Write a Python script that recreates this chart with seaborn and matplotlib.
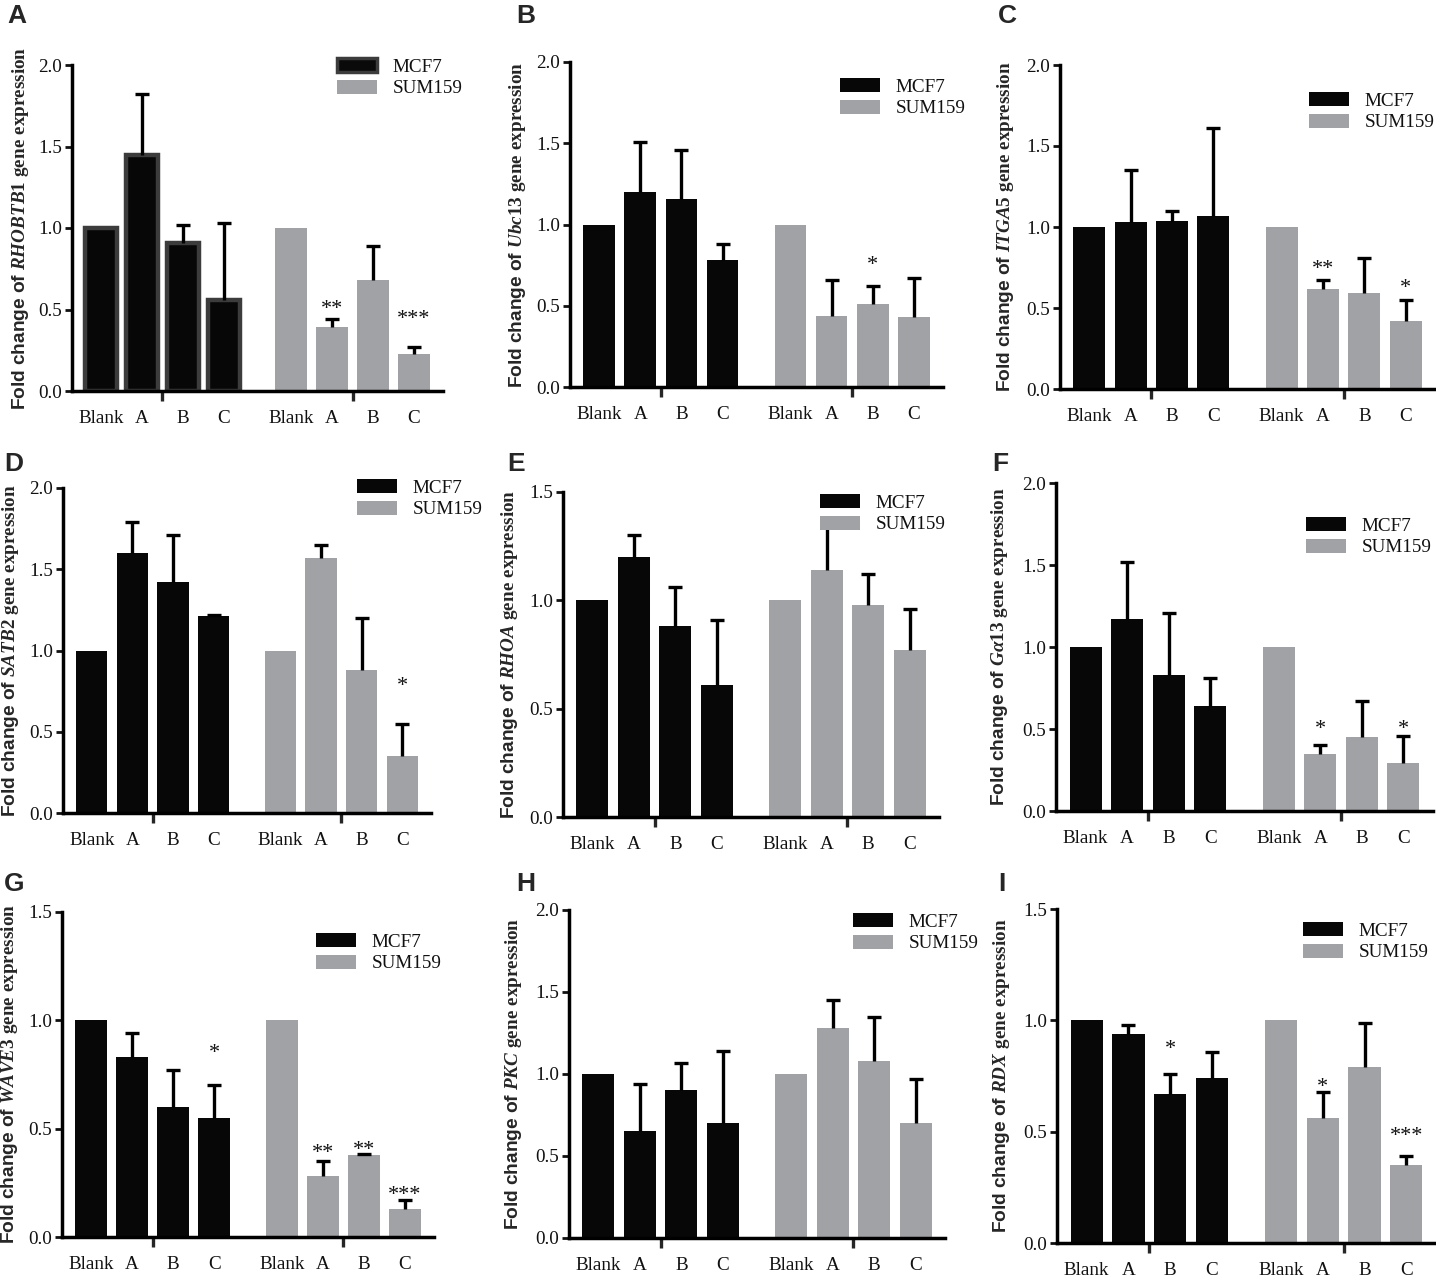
import numpy as np
import pandas as pd
import matplotlib
matplotlib.use("Agg")
import matplotlib.pyplot as plt
import seaborn as sns
from matplotlib.patches import Patch

# ---------------- data ----------------
treatments = ["Blank", "A", "B", "C"]
cell_lines = ["MCF7", "SUM159"]
panel_letters = ["A", "B", "C", "D", "E", "F", "G", "H", "I"]
genes = ["RHOBTB1", "Ubc13", "ITGA5", "SATB2", "RHOA", "Gα13", "WAVE3", "PKC", "RDX"]
y_max = [2.0, 2.0, 2.0, 2.0, 1.5, 2.0, 1.5, 2.0, 1.5]
y_ticks_2 = [0.0, 0.5, 1.0, 1.5, 2.0]
y_ticks_15 = [0.0, 0.5, 1.0, 1.5]

rhobtb1_mcf7 = [1.00, 1.45, 0.91, 0.56]
rhobtb1_mcf7_err = [0.00, 0.37, 0.11, 0.47]
rhobtb1_sum = [1.00, 0.39, 0.68, 0.23]
rhobtb1_sum_err = [0.00, 0.05, 0.21, 0.04]

ubc13_mcf7 = [1.00, 1.20, 1.16, 0.78]
ubc13_mcf7_err = [0.00, 0.31, 0.30, 0.10]
ubc13_sum = [1.00, 0.44, 0.51, 0.43]
ubc13_sum_err = [0.00, 0.22, 0.11, 0.24]

itga5_mcf7 = [1.00, 1.03, 1.04, 1.07]
itga5_mcf7_err = [0.00, 0.32, 0.06, 0.54]
itga5_sum = [1.00, 0.62, 0.59, 0.42]
itga5_sum_err = [0.00, 0.05, 0.22, 0.13]

satb2_mcf7 = [1.00, 1.60, 1.42, 1.21]
satb2_mcf7_err = [0.00, 0.19, 0.29, 0.01]
satb2_sum = [1.00, 1.57, 0.88, 0.35]
satb2_sum_err = [0.00, 0.08, 0.32, 0.20]

rhoa_mcf7 = [1.00, 1.20, 0.88, 0.61]
rhoa_mcf7_err = [0.00, 0.10, 0.18, 0.30]
rhoa_sum = [1.00, 1.14, 0.98, 0.77]
rhoa_sum_err = [0.00, 0.22, 0.14, 0.19]

ga13_mcf7 = [1.00, 1.17, 0.83, 0.64]
ga13_mcf7_err = [0.00, 0.35, 0.38, 0.17]
ga13_sum = [1.00, 0.35, 0.45, 0.29]
ga13_sum_err = [0.00, 0.05, 0.22, 0.17]

wave3_mcf7 = [1.00, 0.83, 0.60, 0.55]
wave3_mcf7_err = [0.00, 0.11, 0.17, 0.15]
wave3_sum = [1.00, 0.28, 0.38, 0.13]
wave3_sum_err = [0.00, 0.07, 0.005, 0.04]

pkc_mcf7 = [1.00, 0.65, 0.90, 0.70]
pkc_mcf7_err = [0.00, 0.29, 0.17, 0.44]
pkc_sum = [1.00, 1.28, 1.08, 0.70]
pkc_sum_err = [0.00, 0.17, 0.27, 0.27]

rdx_mcf7 = [1.00, 0.94, 0.67, 0.74]
rdx_mcf7_err = [0.00, 0.04, 0.09, 0.12]
rdx_sum = [1.00, 0.56, 0.79, 0.35]
rdx_sum_err = [0.00, 0.12, 0.20, 0.04]

# significance marks: (bar index 0-7, label, height in data units)
sig_rhobtb1 = [(5, "**", 0.54), (7, "***", 0.48)]
sig_ubc13 = [(6, "*", 0.79)]
sig_itga5 = [(5, "**", 0.78), (7, "*", 0.66)]
sig_satb2 = [(7, "*", 0.82)]
sig_rhoa = []
sig_ga13 = [(5, "*", 0.54), (7, "*", 0.54)]
sig_wave3 = [(3, "*", 0.877), (5, "**", 0.415), (6, "**", 0.43), (7, "***", 0.223)]
sig_pkc = []
sig_rdx = [(2, "*", 0.90), (5, "*", 0.73), (7, "***", 0.51)]

means_mcf7 = [rhobtb1_mcf7, ubc13_mcf7, itga5_mcf7, satb2_mcf7, rhoa_mcf7, ga13_mcf7, wave3_mcf7, pkc_mcf7, rdx_mcf7]
errs_mcf7 = [rhobtb1_mcf7_err, ubc13_mcf7_err, itga5_mcf7_err, satb2_mcf7_err, rhoa_mcf7_err, ga13_mcf7_err, wave3_mcf7_err, pkc_mcf7_err, rdx_mcf7_err]
means_sum = [rhobtb1_sum, ubc13_sum, itga5_sum, satb2_sum, rhoa_sum, ga13_sum, wave3_sum, pkc_sum, rdx_sum]
errs_sum = [rhobtb1_sum_err, ubc13_sum_err, itga5_sum_err, satb2_sum_err, rhoa_sum_err, ga13_sum_err, wave3_sum_err, pkc_sum_err, rdx_sum_err]
sigs = [sig_rhobtb1, sig_ubc13, sig_itga5, sig_satb2, sig_rhoa, sig_ga13, sig_wave3, sig_pkc, sig_rdx]

# ---------------- layout / style ----------------
W, H = 1436, 1278
BLACK = "#070707"
GRAY = "#a1a2a6"
group_offset = 4.65
positions = [0, 1, 2, 3] + [group_offset + i for i in range(4)]
group_centers = [1.5, group_offset + 1.5]

# axes boxes in pixels: left, top, right, bottom
boxes = [
    (72, 65, 443, 391), (570, 62, 943, 387), (1060, 65, 1435, 389),
    (63, 488, 431, 813), (563, 492, 939, 817), (1056, 483, 1433, 811),
    (62, 912, 434, 1237), (569, 910, 945, 1238), (1057, 909, 1436, 1243),
]
ylabel_x = [21, 517, 1005, 11, 509, 999, 10, 513, 1001]
letter_pos = [(7, 4), (516, 4), (998, 4), (4, 452), (507, 452), (992, 452),
              (4, 872), (516, 872), (998, 872)]
legend_pos = [(337, 68), (840, 88), (1309, 102), (357, 489), (820, 504),
              (1306, 527), (316, 943), (853, 923), (1303, 932)]

sns.set_style("ticks")
plt.rcParams["font.family"] = ["Liberation Serif", "DejaVu Sans"]
plt.rcParams["mathtext.fontset"] = "custom"
plt.rcParams["mathtext.bf"] = "Liberation Sans:bold"
plt.rcParams["mathtext.it"] = "Liberation Serif:italic:bold"
plt.rcParams["mathtext.rm"] = "Liberation Serif:bold"

fig = plt.figure(figsize=(W / 100, H / 100), dpi=100)

for k in range(9):
    l, t, r, b = boxes[k]
    ax = fig.add_axes([l / W, 1 - b / H, (r - l) / W, (b - t) / H])

    df = pd.DataFrame({
        "pos": positions,
        "value": list(means_mcf7[k]) + list(means_sum[k]),
        "line": [cell_lines[0]] * 4 + [cell_lines[1]] * 4,
    })
    sns.barplot(data=df, x="pos", y="value", hue="line", hue_order=cell_lines,
                palette={cell_lines[0]: BLACK, cell_lines[1]: GRAY},
                native_scale=True, width=0.77, dodge=False, errorbar=None,
                saturation=1, legend=False, linewidth=0, ax=ax)

    if k == 0:
        for p in ax.patches:
            if p.get_x() + p.get_width() / 2 < group_offset - 0.5:
                p.set_edgecolor("#3c3c3c")
                p.set_linewidth(3.2)

    err = np.array(list(errs_mcf7[k]) + list(errs_sum[k]))
    vals = df["value"].to_numpy()
    pos = np.array(positions, dtype=float)
    m = err > 0
    eb = ax.errorbar(pos[m], vals[m], yerr=[np.zeros(m.sum()), err[m]], fmt="none",
                     ecolor="black", elinewidth=2.4, capsize=4.8, capthick=2.4, zorder=3)
    eb[1][0].set_visible(False)

    for idx, lab, yy in sigs[k]:
        ax.annotate(lab, (positions[idx], yy), xytext=(0, -8), textcoords="offset points",
                    ha="center", va="baseline", fontsize=16, color="#111111")

    ax.set_xlim(-0.71, 8.36)
    ax.set_ylim(0, y_max[k])
    ticks = y_ticks_2 if y_max[k] == 2.0 else y_ticks_15
    ax.set_yticks(ticks)
    ax.set_yticklabels([f"{v:.1f}" for v in ticks])
    ax.set_xticks(group_centers)
    ax.set_xticklabels(["", ""])
    ax.set_xticks(positions, minor=True)
    ax.set_xticklabels(treatments * 2, minor=True)
    ax.tick_params(axis="x", which="major", length=7, width=2.4, direction="out")
    ax.tick_params(axis="x", which="minor", length=0, pad=14, labelsize=13.8, colors="#111111")
    ax.tick_params(axis="y", length=5, width=2.0, direction="out", labelsize=13.8, pad=2,
                   colors="#111111")
    for s in ["left", "bottom"]:
        ax.spines[s].set_linewidth(2.5)
        ax.spines[s].set_color("black")
    sns.despine(ax=ax)
    ax.set_xlabel("")

    label = (r"$\mathbf{Fold\ change\ of}\ \mathit{" + genes[k] + r"}\ \mathrm{gene\ expression}$")
    ax.set_ylabel(label, fontsize=13.8, va="center")
    ax.yaxis.set_label_coords((ylabel_x[k] - l) / (r - l), 0.5)

    # legend
    if k == 0:
        h1 = Patch(facecolor="#0a0a0a", edgecolor="#3c3c3c", linewidth=2.5)
    else:
        h1 = Patch(facecolor=BLACK, edgecolor="none")
    h2 = Patch(facecolor=GRAY, edgecolor="none")
    lx, ly = legend_pos[k]
    leg = ax.legend([h1, h2], cell_lines, loc="upper left",
                    bbox_to_anchor=(lx / W, 1 - (ly - 10) / H), bbox_transform=fig.transFigure,
                    frameon=False, fontsize=13.8, handlelength=2.1, handleheight=0.75,
                    handletextpad=0.8, labelspacing=0.2, borderpad=0, borderaxespad=0)
    leg.set_zorder(10)
    for txt in leg.get_texts():
        txt.set_color("#111111")

    lxp, lyp = letter_pos[k]
    fig.text(lxp / W, 1 - lyp / H, panel_letters[k], fontsize=19, fontweight="bold",
             family="Liberation Sans", va="top", ha="left")

fig.savefig("out.png", dpi=100)
